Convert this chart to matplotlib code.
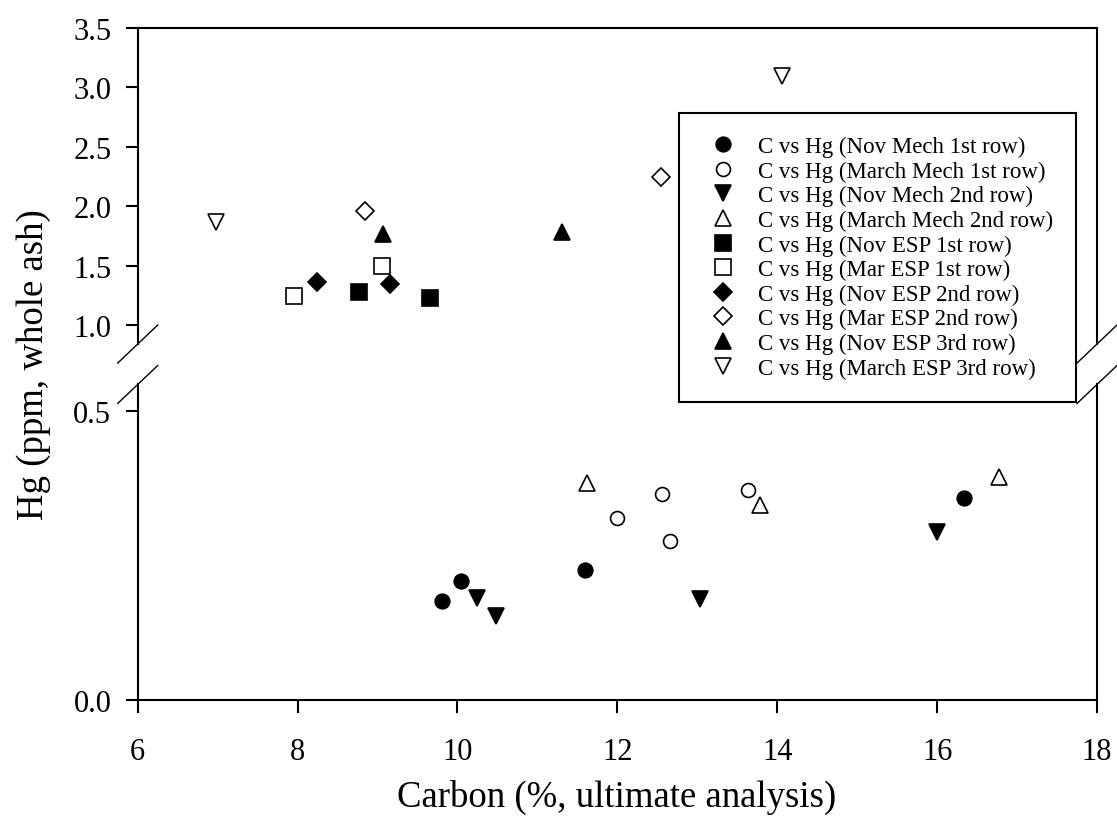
import numpy as np
import matplotlib
matplotlib.use('Agg')
import matplotlib.pyplot as plt
from matplotlib.lines import Line2D

plt.rcParams['font.family'] = ['Liberation Serif', 'DejaVu Serif']

# Данные: углерод (%) и Hg (ppm) для каждой серии
labels = [
    'C vs Hg (Nov Mech 1st row)',
    'C vs Hg (March Mech 1st row)',
    'C vs Hg (Nov Mech 2nd row)',
    'C vs Hg (March Mech 2nd row)',
    'C vs Hg (Nov ESP 1st row)',
    'C vs Hg (Mar ESP 1st row)',
    'C vs Hg (Nov ESP 2nd row)',
    'C vs Hg (Mar ESP 2nd row)',
    'C vs Hg (Nov ESP 3rd row)',
    'C vs Hg (March ESP 3rd row)',
]

nov_mech1_c = [9.81, 10.05, 11.60, 16.34]
nov_mech1_hg = [0.170, 0.206, 0.225, 0.349]
mar_mech1_c = [11.99, 12.56, 12.66, 13.63]
mar_mech1_hg = [0.314, 0.356, 0.275, 0.363]
nov_mech2_c = [10.25, 10.48, 13.03, 16.00]
nov_mech2_hg = [0.176, 0.145, 0.175, 0.291]
mar_mech2_c = [11.62, 13.78, 16.78]
mar_mech2_hg = [0.376, 0.337, 0.386]
nov_esp1_c = [8.77, 9.65]
nov_esp1_hg = [1.275, 1.227]
mar_esp1_c = [7.95, 9.06]
mar_esp1_hg = [1.242, 1.494]
nov_esp2_c = [8.24, 9.16]
nov_esp2_hg = [1.360, 1.345]
mar_esp2_c = [8.84, 12.54]
mar_esp2_hg = [1.957, 2.248]
nov_esp3_c = [9.07, 11.31]
nov_esp3_hg = [1.766, 1.780]
mar_esp3_c = [6.98, 14.06]
mar_esp3_hg = [1.864, 3.099]

series = [
    (nov_mech1_c, nov_mech1_hg, 'o', True, 10.5),
    (mar_mech1_c, mar_mech1_hg, 'o', False, 10),
    (nov_mech2_c, nov_mech2_hg, 'v', True, 11),
    (mar_mech2_c, mar_mech2_hg, '^', False, 11),
    (nov_esp1_c, nov_esp1_hg, 's', True, 11),
    (mar_esp1_c, mar_esp1_hg, 's', False, 11),
    (nov_esp2_c, nov_esp2_hg, 'D', True, 9.5),
    (mar_esp2_c, mar_esp2_hg, 'D', False, 9.5),
    (nov_esp3_c, nov_esp3_hg, '^', True, 11),
    (mar_esp3_c, mar_esp3_hg, 'v', False, 11),
]

fig = plt.figure(figsize=(11.17, 8.29), dpi=100)
ax_top = fig.add_axes([0.1233, 0.5838, 0.8588, 0.3812])
ax_bot = fig.add_axes([0.1233, 0.1550, 0.8588, 0.3800])

handles = []
for (c, hg, m, filled, ms), lab in zip(series, labels):
    for ax in (ax_top, ax_bot):
        ln, = ax.plot(c, hg, linestyle='none', marker=m, markersize=ms,
                      markerfacecolor='black' if filled else 'white',
                      markeredgecolor='black', markeredgewidth=1.2,
                      clip_on=True, label=lab)
    handles.append(ln)

# Разрыв оси Y
ax_top.set_ylim(0.84, 3.5)
ax_bot.set_ylim(0.0, 0.546)
ax_top.set_yticks([1.0, 1.5, 2.0, 2.5, 3.0, 3.5])
ax_bot.set_yticks([0.0, 0.5])

for ax in (ax_top, ax_bot):
    ax.set_xlim(6, 18)
    ax.set_xticks(range(6, 19, 2))
    ax.yaxis.set_major_formatter(plt.FormatStrFormatter('%.1f'))
    for s in ax.spines.values():
        s.set_linewidth(1.5)
    ax.tick_params(axis='both', direction='out', length=9, width=1.5,
                   labelsize=22, right=False, top=False)
    ax.tick_params(axis='y', pad=10)
    ax.tick_params(axis='x', pad=18)

ax_top.spines['bottom'].set_visible(False)
ax_top.tick_params(axis='x', bottom=False, labelbottom=False)
ax_bot.spines['top'].set_visible(False)

# Косые черточки разрыва
dx, dy = 20 / 1117, 19 / 829
p_top = ax_top.get_position()
p_bot = ax_bot.get_position()
for x0 in (p_top.x0, p_top.x1):
    for y0 in (p_top.y0, p_bot.y1):
        fig.add_artist(Line2D([x0 - dx, x0 + dx], [y0 - dy, y0 + dy],
                              transform=fig.transFigure, color='black', lw=1.0))

fig.text(0.552, 0.038, 'Carbon (%, ultimate analysis)', ha='center', va='center', fontsize=26.5)
fig.text(0.030, 0.56, 'Hg (ppm, whole ash)', rotation=90, ha='center', va='center', fontsize=26.5)

leg = fig.legend(handles=handles, loc='upper left', bbox_to_anchor=(0.6079, 0.8625),
                 fontsize=16.5, frameon=True, fancybox=False, edgecolor='black',
                 framealpha=1, borderaxespad=0, borderpad=1.0, labelspacing=0.15,
                 handlelength=1.8, handletextpad=0.65)
leg.get_frame().set_linewidth(1.5)

fig.savefig('out.png', dpi=100)
